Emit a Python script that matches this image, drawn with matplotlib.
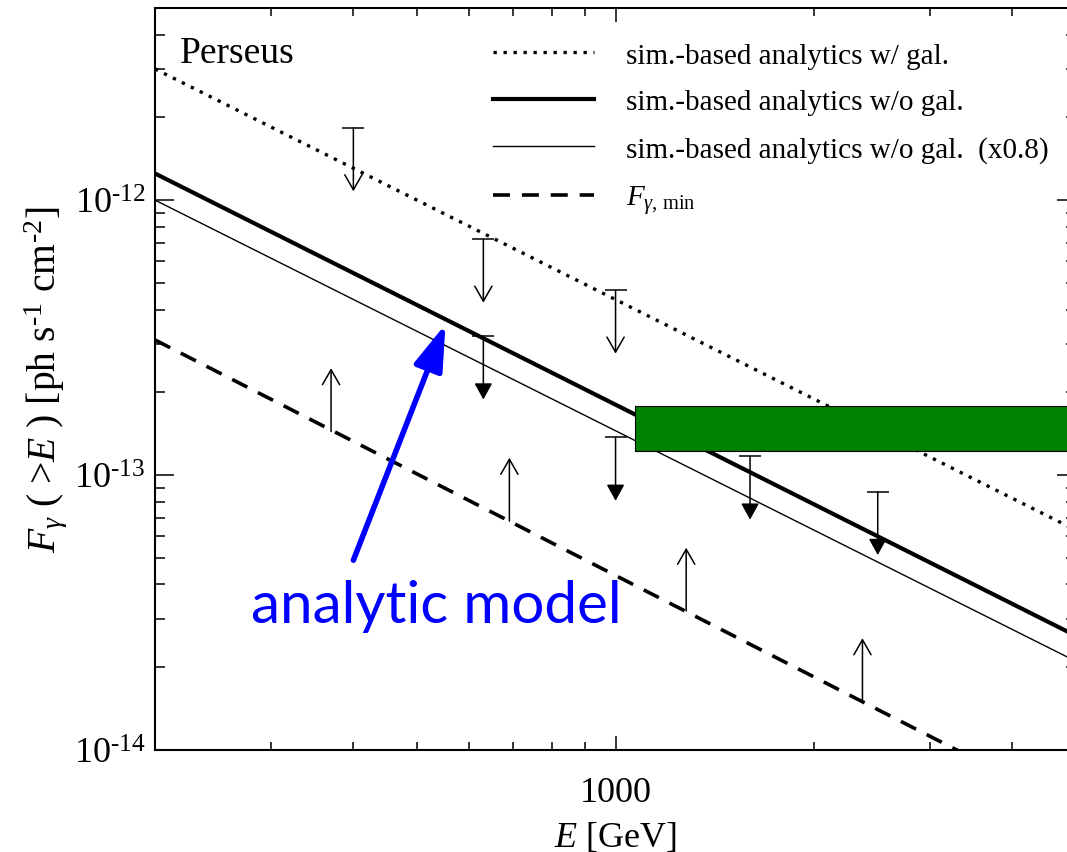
import matplotlib
matplotlib.use("Agg")
import matplotlib.pyplot as plt
from matplotlib.ticker import FuncFormatter, NullFormatter, FixedLocator
import numpy as np

plt.rcParams['font.family'] = 'Liberation Serif'
plt.rcParams['mathtext.fontset'] = 'custom'
plt.rcParams['mathtext.rm'] = 'Liberation Serif'
plt.rcParams['mathtext.it'] = 'Liberation Serif:italic'
plt.rcParams['mathtext.bf'] = 'Liberation Serif:bold'

# model curves (power laws), given by their values at the ends of the energy range
E_ends = [200, 5000]
F_with_gal = [3.0e-12, 6.3e-14]
F_without_gal = [1.25e-12, 2.6e-14]
F_without_gal_08 = [1.0e-12, 2.1e-14]
F_gamma_min = [3.1e-13, 6.0e-15]

# upper limits (open heads, near the w/ gal. curve)
ul_open_E = [400, 630, 1000]
ul_open_F = [1.83e-12, 7.2e-13, 4.7e-13]

# upper limits (filled heads, near the w/o gal. curve)
ul_fill_E = [630, 1000, 1600, 2500]
ul_fill_F = [3.2e-13, 1.37e-13, 1.17e-13, 8.7e-14]

# lower limits, starting on F_gamma,min
ll_E = [370, 690, 1280, 2370]
ll_F = [1.44e-13, 6.8e-14, 3.2e-14, 1.5e-14]

# measured band
band_E = [1070, 5000]
band_F = [1.22e-13, 1.78e-13]

# "analytic model" pointer: tail and tip
model_tail = (400, 4.9e-14)
model_tip = (552, 3.54e-13)

y_major = [1e-14, 1e-13, 1e-12]

ARROW = 1.7  # arrow length as a flux factor

fig = plt.figure(figsize=(10.67, 8.53), dpi=100)
ax = fig.add_axes([0.1453, 0.1196, 0.8632, 0.8699])
ax.set_xscale('log')
ax.set_yscale('log')

ax.plot(E_ends, F_with_gal, color='black', lw=2.4, ls=(0, (1, 2)),
        label='sim.-based analytics w/ gal.')
ax.plot(E_ends, F_without_gal, color='black', lw=3.0,
        label='sim.-based analytics w/o gal.')
ax.plot(E_ends, F_without_gal_08, color='black', lw=1.0,
        label='sim.-based analytics w/o gal.  (x0.8)')
ax.plot(E_ends, F_gamma_min, color='black', lw=2.6, ls=(0, (4.7, 3.3)),
        label=r'$F_{\gamma,\,\mathrm{min}}$')

ax.fill_between(band_E, band_F[0], band_F[1], facecolor='#008000',
                edgecolor='black', lw=0.8, zorder=3)

open_head = '->,head_length=1.08,head_width=0.62'
fill_head = '-|>,head_length=1.0,head_width=0.55'

for e, f in zip(ul_open_E, ul_open_F):
    ax.annotate('', xy=(e, f / ARROW), xytext=(e, f),
                arrowprops=dict(arrowstyle=open_head, lw=1.1, color='black',
                                shrinkA=0, shrinkB=0, mutation_scale=10))
    ax.plot([e], [f], marker='_', ms=16, mew=1.1, color='black')

for e, f in zip(ul_fill_E, ul_fill_F):
    ax.annotate('', xy=(e, f / ARROW), xytext=(e, f),
                arrowprops=dict(arrowstyle=fill_head, lw=1.1, color='black',
                                shrinkA=0, shrinkB=0, mutation_scale=10))
    ax.plot([e], [f], marker='_', ms=16, mew=1.1, color='black')

for e, f in zip(ll_E, ll_F):
    ax.annotate('', xy=(e, f * ARROW), xytext=(e, f),
                arrowprops=dict(arrowstyle=open_head, lw=1.1, color='black',
                                shrinkA=0, shrinkB=0, mutation_scale=10))

ax.annotate('', xy=model_tip, xytext=model_tail,
            arrowprops=dict(arrowstyle='-|>,head_length=2.8,head_width=0.9',
                            lw=4, color='blue', shrinkA=0, shrinkB=0,
                            mutation_scale=10), zorder=5)
ax.text(0.104, 0.1725, 'analytic model', transform=ax.transAxes,
        color='blue', fontsize=42, family='Lato',
        va='baseline', ha='left')

ax.text(0.027, 0.927, 'Perseus', transform=ax.transAxes, fontsize=27,
        va='baseline', ha='left')

ax.set_xlim(200, 5000)
ax.set_ylim(1e-14, 5e-12)

ax.xaxis.set_major_formatter(FuncFormatter(lambda v, p: '%d' % v))
ax.xaxis.set_minor_formatter(NullFormatter())
ax.yaxis.set_major_locator(FixedLocator(y_major))
ax.yaxis.set_major_formatter(
    FuncFormatter(lambda v, p: r'10$^{\text{%d}}$' % round(np.log10(v))))
ax.yaxis.set_minor_formatter(NullFormatter())

ax.tick_params(which='both', direction='in', top=True, right=True,
               width=1.1, labelsize=26)
ax.tick_params(axis='x', which='major', length=10, pad=19)
ax.tick_params(axis='x', which='minor', length=5.5)
ax.tick_params(axis='y', which='major', length=13.5, pad=7)
ax.tick_params(axis='y', which='minor', length=7)
for s in ax.spines.values():
    s.set_linewidth(1.5)

ax.set_xlabel(r'$E$ [GeV]', fontsize=26, labelpad=7.5)
ax.set_ylabel(r'$F_{\gamma}$ ( >$E$ ) [ph s$^{\text{-1}}$ cm$^{\text{-2}}$]',
              fontsize=28.5, labelpad=3)

ax.legend(loc='upper left', bbox_to_anchor=(0.367, 0.954), frameon=False,
          fontsize=21, handlelength=3.45, handletextpad=1.1,
          labelspacing=0.7, borderpad=0, borderaxespad=0)

fig.savefig('out.png', dpi=100)
